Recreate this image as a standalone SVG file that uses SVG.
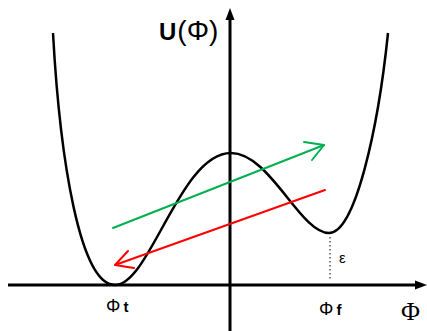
<svg xmlns="http://www.w3.org/2000/svg" width="427" height="331" viewBox="0 0 427 331">
<style>
.lbl{font-family:"Liberation Sans",Arial,sans-serif;fill:#000}
.ser{font-family:"Liberation Serif","Times New Roman",serif;fill:#000}
.arr{fill:none;stroke-width:2;stroke-linecap:round;stroke-linejoin:round}
</style>
<rect width="427" height="331" fill="#fff"/>
<g id="axes">
<line x1="8" y1="285" x2="418" y2="285" stroke="#000" stroke-width="3"/>
<polygon points="427,285 415,280.5 415,289.5" fill="#000"/>
<line x1="230" y1="18" x2="230" y2="331" stroke="#000" stroke-width="3"/>
<polygon points="230,8 225.5,20 234.5,20" fill="#000"/>
</g>
<g id="potential">
<path d="M53,33 C60,160 80,285 115,285 C150,285 180,153 231,153 C270,153 300,233 329,233 C355,233 378,130 388,33" fill="none" stroke="#000" stroke-width="2.5"/>
<line x1="330" y1="237" x2="330" y2="281" stroke="#000" stroke-width="1" stroke-dasharray="1.5,2.5"/>
</g>
<g id="connectors">
<g id="green-arrow" stroke="#00b050" class="arr">
<line x1="113" y1="228" x2="324" y2="145"/>
<polyline points="304,142 324,145 312,160"/>
</g>
<g id="red-arrow" stroke="#ff0000" class="arr">
<line x1="325" y1="190" x2="115" y2="265"/>
<polyline points="128,251 115,265 134,268"/>
</g>
</g>
<g id="labels">
<text x="159" y="40" class="lbl" font-size="24"><tspan font-weight="bold">U</tspan><tspan font-size="28" dx="1">(Φ)</tspan></text>
<text x="106" y="312" class="lbl" font-size="18">Φ<tspan font-size="15" font-weight="bold" dx="3">t</tspan></text>
<text x="319" y="315" class="lbl" font-size="18">Φ<tspan font-size="15" font-weight="bold" dx="3">f</tspan></text>
<text x="339" y="263" class="lbl" font-size="15">ε</text>
<text x="401" y="320" class="ser" font-size="26">Φ</text>
</g>
</svg>
